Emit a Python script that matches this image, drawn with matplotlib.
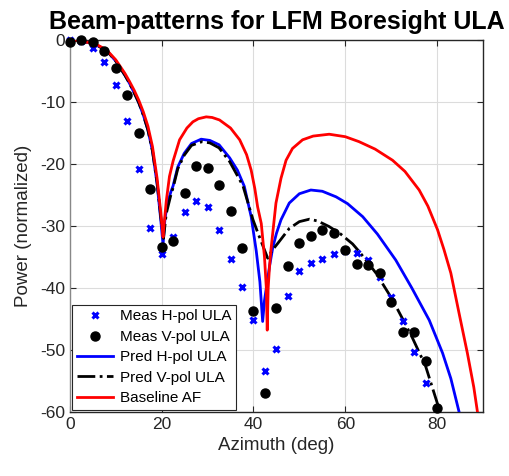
import numpy as np
import matplotlib.pyplot as plt

plt.rcParams['font.family'] = ['Liberation Sans', 'DejaVu Sans']
plt.rcParams['axes.unicode_minus'] = False

# measured points (2.5 deg spacing)
az_h = np.arange(0, 78, 2.5)
meas_h = [0, -0.2, -1.3, -3.6, -7.3, -13.0, -20.8, -30.4, -34.5, -31.8,
          -27.8, -25.9, -27.0, -30.6, -35.4, -39.9, -45.1, -53.4, -49.8, -41.3,
          -37.3, -35.9, -35.4, -34.5, -34.1, -34.3, -35.5, -38.3, -41.5, -45.4,
          -50.4, -55.4]
az_v = np.arange(0, 80.1, 2.5)
meas_v = [-0.4, 0.0, -0.3, -1.7, -4.5, -8.8, -15.0, -24.0, -33.4, -32.4,
          -24.6, -20.4, -20.7, -23.4, -27.6, -33.6, -43.7, -57.0, -43.3, -36.4,
          -32.8, -31.6, -30.6, -31.1, -33.8, -36.2, -36.3, -37.6, -42.2, -47.1,
          -47.1, -51.8, -59.3]

# predicted / baseline curves
az_af = [0, 2, 4, 6, 8, 10, 12, 13, 14, 15, 16, 17, 18, 19, 19.8, 20.3,
         20.5, 21, 21.7, 22.5, 23.9, 25.5, 26.8, 28, 29.7, 31, 32.6, 35, 37,
         38.5, 39.5, 40.3, 40.9, 41.7, 42.4, 42.8, 43.0, 43.2, 43.5, 43.8, 44.9,
         46, 47.1, 48.5, 50.7, 53, 56.5, 60, 63, 66.5, 70.3, 73, 76.1, 78, 80.1,
         81.5, 83, 84.8, 86.6, 88, 88.8, 89.2]
base_af = [0, -0.1, -0.4, -0.8, -1.6, -3.2, -5.4, -6.7, -8.1, -9.7, -11.6,
           -13.9, -17.2, -22.3, -27.8, -31.8,
           -30, -26, -22, -19.5, -16.1, -14.2, -13.2, -12.7, -12.4, -12.5, -12.9,
           -14.2, -16.1, -18.5, -21, -24, -26.9, -29.6, -35, -40, -46.8, -40,
           -36.5, -33.9, -26.3, -22.3, -19.4, -17.5, -16.1, -15.5, -15.2, -15.6,
           -16.4, -17.6, -19.4, -21.2, -24.2, -26.8, -30.6, -33.8, -37.6, -44.1,
           -50.5, -56, -60, -62]

az_ph = [0, 2, 4, 6, 8, 10, 12, 13, 14, 15, 16, 17, 18, 19, 19.8, 20.3,
         20.7, 21.2, 22, 22.5, 23.5, 24.9, 26.5, 28.6, 30.5, 32.5, 34.8, 36.5,
         38, 39.5, 40.6, 41.4, 42.0, 42.4, 42.8, 43.5, 44.2, 45, 46, 47.8, 50,
         52.5, 55, 58, 60.5, 63.8, 67, 71, 74.5, 78.3, 81.2, 83, 84.8, 85.3]
pred_h = [0, -0.1, -0.4, -0.9, -1.7, -3.4, -5.7, -7.0, -8.5, -10.1, -12.1,
          -14.5, -17.9, -23.2, -29, -33,
          -29, -26.5, -24.5, -23.5, -20.5, -18.3, -16.7, -16.0, -16.2, -16.9,
          -19.0, -21, -23.6, -28.5, -34, -39, -45.4, -42, -40, -36.5, -33.5,
          -31.2, -29, -26.3, -24.8, -24.2, -24.4, -25.3, -26.4, -28.5, -31.3,
          -35.5, -40, -45.2, -50.5, -54.6, -60, -62]

az_pv = [0, 2, 4, 6, 8, 10, 12, 13, 14, 15, 16, 17, 18, 19, 19.8, 20.4,
         21, 22, 22.5, 23.5, 24.9, 26.5, 28.8, 30.5, 32.5, 34.8, 37.7, 39.9,
         41, 42, 43.1, 44, 45.3, 47.8, 50, 52.2, 54, 56.5, 59, 61.6, 63, 66.7,
         70.3, 72.5, 74.6, 77.5, 80.4, 80.8]
pred_v = [0, -0.1, -0.4, -0.9, -1.7, -3.4, -5.7, -7.0, -8.5, -10.1, -12.1,
          -14.5, -17.9, -23.0, -28.5, -32,
          -28, -25, -23.8, -20.8, -18.6, -17, -16.4, -16.6, -17.4, -19.6, -23.5,
          -29, -31.2, -33.1, -35.2, -34, -32.8, -30.4, -29.3, -28.9, -29.2,
          -30.1, -31.3, -32.9, -34.1, -37.6, -41.9, -45.0, -48.0, -52.6, -59.4,
          -62]

fig = plt.figure(figsize=(5.1, 4.76), dpi=100)
ax = fig.add_axes([0.137, 0.1345, 0.81, 0.7815])

ax.plot(az_h, meas_h, 'x', color='blue', markersize=5, mew=2.2,
        label='Meas H-pol ULA', clip_on=False, zorder=4)
ax.plot(az_v, meas_v, 'o', color='black', markersize=6.5,
        label='Meas V-pol ULA', clip_on=False, zorder=4)
ax.plot(az_ph, pred_h, '-', color='blue', lw=2, label='Pred H-pol ULA', zorder=3)
ax.plot(az_pv, pred_v, '-.', color='black', lw=2, label='Pred V-pol ULA', zorder=3)
ax.plot(az_af, base_af, '-', color='red', lw=2, label='Baseline AF', zorder=3)

ax.set_xlim(0, 90)
ax.set_ylim(-60, 0)
ax.set_xticks([0, 20, 40, 60, 80])
ax.set_yticks(np.arange(-60, 1, 10))
ax.grid(True, color='#dcdcdc', lw=0.8)
ax.set_axisbelow(True)
ax.tick_params(direction='in', length=4, labelsize=12.5, colors='#262626',
               top=True, right=True, labeltop=False, labelright=False)
for s in ax.spines.values():
    s.set_color('#262626')
    s.set_linewidth(1)
ax.spines['left'].set_color('#888888')

ax.set_xlabel('Azimuth (deg)', fontsize=13.5, color='#262626')
ax.set_ylabel('Power (normalized)', fontsize=13.5, color='#262626', labelpad=6)
ax.set_title('Beam-patterns for LFM Boresight ULA', fontsize=18,
             fontweight='bold', pad=8)

leg = ax.legend(loc='lower left', fontsize=11, fancybox=False,
                borderaxespad=0.15, handlelength=2.4, handletextpad=0.4,
                labelspacing=0.42, borderpad=0.3)
leg.get_frame().set_edgecolor('#262626')
leg.get_frame().set_linewidth(0.8)
leg.get_frame().set_alpha(1)

plt.savefig('out.png', dpi=100)
